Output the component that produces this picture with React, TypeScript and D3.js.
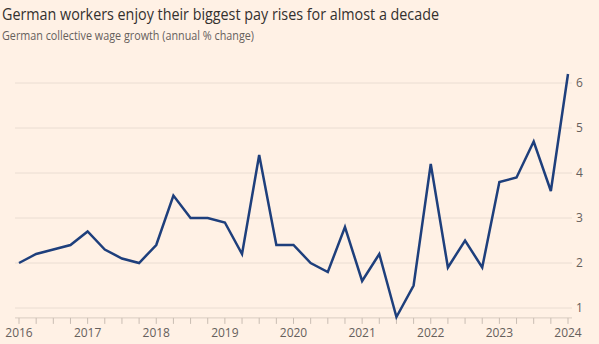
import React from "react";
import * as d3 from "d3";

const quarters: number[] = [
  2016.0, 2016.25, 2016.5, 2016.75, 2017.0, 2017.25, 2017.5, 2017.75,
  2018.0, 2018.25, 2018.5, 2018.75, 2019.0, 2019.25, 2019.5, 2019.75,
  2020.0, 2020.25, 2020.5, 2020.75, 2021.0, 2021.25, 2021.5, 2021.75,
  2022.0, 2022.25, 2022.5, 2022.75, 2023.0, 2023.25, 2023.5, 2023.75,
  2024.0,
];
const wageGrowth: number[] = [
  2.0, 2.2, 2.3, 2.4, 2.7, 2.3, 2.1, 2.0,
  2.4, 3.5, 3.0, 3.0, 2.9, 2.2, 4.4, 2.4,
  2.4, 2.0, 1.8, 2.8, 1.6, 2.2, 0.8, 1.5,
  4.2, 1.9, 2.5, 1.9, 3.8, 3.9, 4.7, 3.6,
  6.2,
];
const yearTicks: number[] = [2016, 2017, 2018, 2019, 2020, 2021, 2022, 2023, 2024];
const yTicks: number[] = [1, 2, 3, 4, 5, 6];

const W = 599;
const H = 344;
const FONT = "'Open Sans', 'Noto Sans', sans-serif";

export default function App() {
  const x = d3.scaleLinear().domain([2016, 2024]).range([19, 568]);
  const y = d3.scaleLinear().domain([1, 6]).range([308, 83]);
  const axisY = y(0.78);
  const minorTicks = d3.range(2016, 2024.001, 0.25);
  const line = d3
    .line<number>()
    .x((_, i) => x(quarters[i]))
    .y((d) => y(d));
  const path = line(wageGrowth) || "";

  return (
    <svg
      width={W}
      height={H}
      style={{ position: "absolute", left: 0, top: 0, background: "#FFF1E5" }}
    >
      <rect x={0} y={0} width={W} height={H} fill="#FFF1E5" />
      <text
        x={2}
        y={20}
        fontFamily={FONT}
        fontSize={16}
        fill="#33302E"
        textLength={437}
        lengthAdjust="spacingAndGlyphs"
      >
        German workers enjoy their biggest pay rises for almost a decade
      </text>
      <text
        x={2}
        y={40}
        fontFamily={FONT}
        fontSize={12}
        fill="#66605C"
        textLength={252}
        lengthAdjust="spacingAndGlyphs"
      >
        German collective wage growth (annual % change)
      </text>
      {yTicks.map((t) => (
        <g key={t}>
          <line x1={15} x2={572} y1={y(t)} y2={y(t)} stroke="#EADDD2" strokeWidth={1} />
          <text
            x={576}
            y={y(t) + 4}
            fontFamily={FONT}
            fontSize={12}
            fill="#66605C"
          >
            {t}
          </text>
        </g>
      ))}
      <line x1={15} x2={572} y1={axisY} y2={axisY} stroke="#D9CCC1" strokeWidth={1} />
      {minorTicks.map((t) => (
        <line
          key={t}
          x1={x(t)}
          x2={x(t)}
          y1={axisY}
          y2={axisY + 6}
          stroke="#C9BDB3"
          strokeWidth={1}
        />
      ))}
      {yearTicks.map((t) => (
        <text
          key={t}
          x={x(t)}
          y={337}
          textAnchor="middle"
          fontFamily={FONT}
          fontSize={12}
          fill="#66605C"
        >
          {t}
        </text>
      ))}
      <path
        d={path}
        fill="none"
        stroke="#1E3F7C"
        strokeWidth={2.5}
        strokeLinejoin="miter"
      />
    </svg>
  );
}
